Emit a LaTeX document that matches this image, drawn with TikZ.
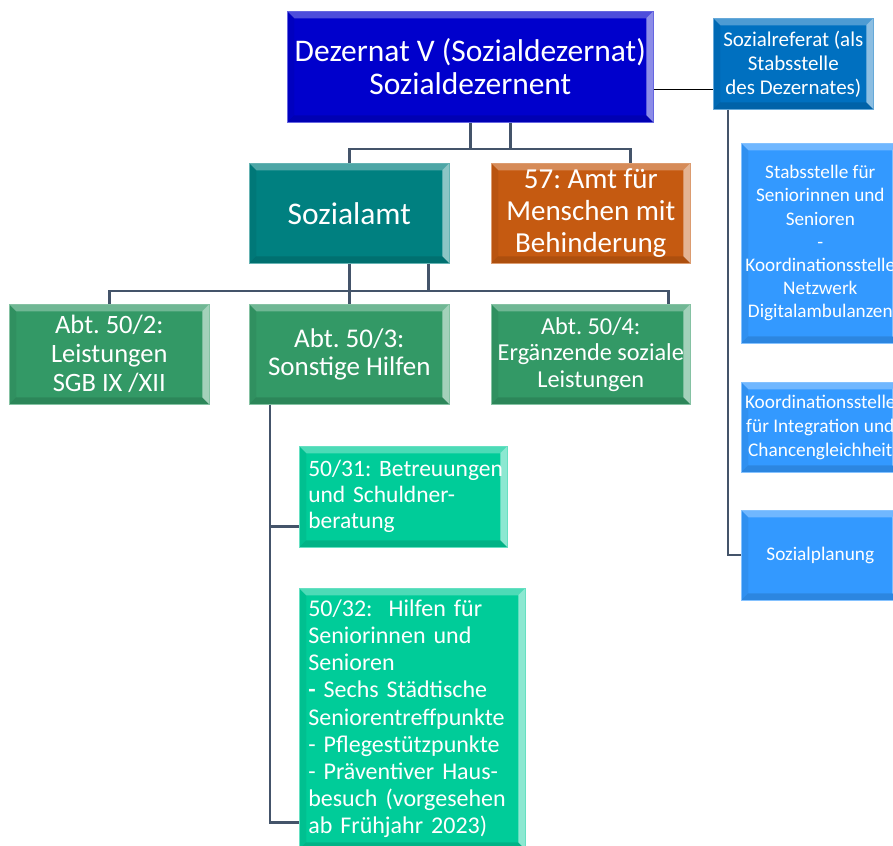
\documentclass[tikz,border=0pt]{standalone}
\usepackage{fontspec}
\setmainfont{Carlito}
\usetikzlibrary{calc}
\frenchspacing
\definecolor{cTop}{RGB}{0,0,204}
\definecolor{cRef}{RGB}{0,112,192}
\definecolor{cLight}{RGB}{51,153,255}
\definecolor{cTeal}{RGB}{0,128,128}
\definecolor{cOrange}{RGB}{197,90,17}
\definecolor{cGreen}{RGB}{51,153,102}
\definecolor{cMint}{RGB}{0,204,153}
\definecolor{cLine}{RGB}{68,84,106}
\newcommand{\fs}[2]{\fontsize{#1}{#2}\selectfont}
\tikzset{
  bevel/.style={path picture={
    \fill[white,opacity=.30] (path picture bounding box.north west) -- (path picture bounding box.north east) -- ([shift={(-7pt,-7pt)}]path picture bounding box.north east) -- ([shift={(7pt,-7pt)}]path picture bounding box.north west) -- cycle;
    \fill[white,opacity=.55] (path picture bounding box.north east) -- (path picture bounding box.south east) -- ([shift={(-7pt,7pt)}]path picture bounding box.south east) -- ([shift={(-7pt,-7pt)}]path picture bounding box.north east) -- cycle;
    \fill[black,opacity=.12] (path picture bounding box.south west) -- (path picture bounding box.south east) -- ([shift={(-7pt,7pt)}]path picture bounding box.south east) -- ([shift={(7pt,7pt)}]path picture bounding box.south west) -- cycle;
    \fill[black,opacity=.06] (path picture bounding box.north west) -- (path picture bounding box.south west) -- ([shift={(7pt,7pt)}]path picture bounding box.south west) -- ([shift={(7pt,-7pt)}]path picture bounding box.north west) -- cycle;
  }},
  box/.style={bevel, anchor=north west, inner sep=0pt, align=center, text=white, draw=#1!60!white, line width=0.6pt, fill=#1},
  conn/.style={draw=cLine, line width=2.4pt},
  thinconn/.style={draw=black, line width=1.2pt},
  sideconn/.style={draw=cLine, line width=1.8pt}
}
\begin{document}
\begin{tikzpicture}[x=1pt,y=-1pt]
\useasboundingbox (0,0) rectangle (893,845);
% level 0
\node[box=cTop, minimum width=366pt, minimum height=111pt, font=\fs{31.5}{33}] (top) at (287,11) {Dezernat V (Sozialdezernat)\\Sozialdezernent};
\node[box=cRef, minimum width=160pt, minimum height=91pt, font=\fs{21}{24}] (ref) at (713,18) {Sozialreferat (als\\Stabsstelle\\des Dezernates)};
% right column
\node[box=cLight, minimum width=158pt, minimum height=200pt, font=\fs{19.2}{23.2}] (stab) at (741,143) {Stabsstelle für\\Seniorinnen und\\Senioren\\-\\Koordinationsstelle\\Netzwerk\\Digitalambulanzen};
\node[box=cLight, minimum width=158pt, minimum height=90pt, font=\fs{19.3}{24}] (koord) at (741,382) {Koordinationsstelle\\für Integration und\\Chancengleichheit};
\node[box=cLight, minimum width=158pt, minimum height=90pt, font=\fs{19.3}{24}] (plan) at (741,510) {Sozialplanung};
% level 1
\node[box=cTeal, minimum width=200pt, minimum height=100pt, font=\fs{31.5}{34}] (soz) at (249,163) {Sozialamt};
\node[box=cOrange, minimum width=199pt, minimum height=100pt, font=\fs{29}{32}] (a57) at (491,163) {57: Amt für\\Menschen mit\\Behinderung};
% level 2
\node[box=cGreen, minimum width=200pt, minimum height=100pt, font=\fs{26.5}{29}] (a502) at (9,304) {Abt. 50/2:\\Leistungen\\SGB IX /XII};
\node[box=cGreen, minimum width=200pt, minimum height=100pt, font=\fs{27}{28}] (a503) at (249,304) {Abt. 50/3:\\Sonstige Hilfen};
\node[box=cGreen, minimum width=199pt, minimum height=100pt, font=\fs{24.3}{26.5}] (a504) at (491,304) {Abt. 50/4:\\Ergänzende soziale\\Leistungen};
% level 3
\node[box=cMint, align=left, text width=190pt, minimum width=208pt, minimum height=101pt, font=\fs{23.5}{26}] (b31) at (299,446) {\mbox{50/31: Betreuungen}\\\mbox{und Schuldner-}\\\mbox{beratung}};
\node[box=cMint, align=left, text width=208pt, minimum width=226pt, minimum height=261pt, font=\fs{24}{27.1}] (b32) at (299,588) {\mbox{50/32:\ \ Hilfen für}\\\mbox{Seniorinnen und}\\\mbox{Senioren}\\\mbox{\textbf{-} Sechs Städtische}\\\mbox{Seniorentreffpunkte}\\\mbox{- Pflegestützpunkte}\\\mbox{- Präventiver Haus-}\\\mbox{besuch (vorgesehen}\\\mbox{ab Frühjahr 2023)}};
% helper coordinates
\coordinate (h1) at (0,149);
\coordinate (h2) at (0,291);
\coordinate (t2) at ([xshift=40pt]top.south);
\coordinate (a57t) at ([xshift=39.5pt]a57.north);
\coordinate (s2) at ([xshift=79pt]soz.south);
\coordinate (a504t) at ([xshift=77.5pt]a504.north);
\coordinate (v3) at ([xshift=21pt]a503.south west);
\coordinate (e31) at ([yshift=-29.5pt]b31.west);
\coordinate (e32) at ([yshift=27pt]b32.south west);
\coordinate (r1) at ([yshift=-25.5pt]ref.west);
\coordinate (rv) at ([xshift=15pt]ref.south west);
% connectors
\draw[conn] (top.south) -- (top.south |- h1);
\draw[conn] (t2) -- (t2 |- h1);
\draw[conn] (soz.north) |- (a57t |- h1) -- (a57t);
\draw[conn] (soz.south) -- (a503.north);
\draw[conn] (s2) -- (s2 |- h2);
\draw[conn] (a502.north) |- (a504t |- h2) -- (a504t);
\draw[conn] (v3) |- (e32);
\draw[conn] (v3 |- e31) -- (e31);
\draw[thinconn] (top.east |- r1) -- (r1);
\draw[sideconn] (rv) |- (plan.west);
\end{tikzpicture}
\end{document}
